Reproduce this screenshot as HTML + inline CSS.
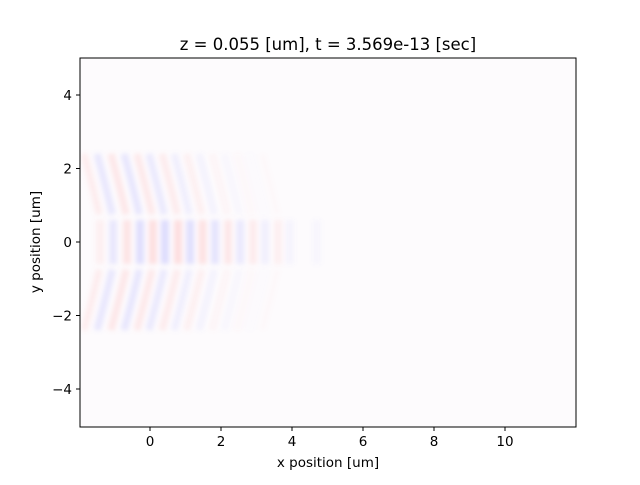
<!DOCTYPE html>
<html><head><meta charset="utf-8"><style>
body{margin:0;background:#fff;}
svg text{font-family:"DejaVu Sans","Liberation Sans",sans-serif;fill:#000;}
</style></head><body>
<svg id="c" width="640" height="480">
<defs><filter id="blur"><feGaussianBlur stdDeviation="2.5"/></filter></defs>
<text x="328" y="50" text-anchor="middle" font-size="16.5">z = 0.055 [um], t = 3.569e-13 [sec]</text>
<rect x="80" y="58" width="496" height="369" fill="#fdfbfd"/>
<g id="marks" clip-path="url(#clip)" filter="url(#blur)"></g>
<clipPath id="clip"><rect x="80" y="58" width="496" height="369"/></clipPath>
<rect x="80" y="58" width="496" height="369" fill="none" stroke="#000" stroke-width="1"/>
<g id="axes"></g>
<text x="328" y="467" text-anchor="middle" font-size="13.5">x position [um]</text>
<text x="40" y="242" text-anchor="middle" font-size="13.5" transform="rotate(-90 40 242)">y position [um]</text>
</svg>
<script>
const xTicks=[0,2,4,6,8,10];
const yTicks=[-4,-2,0,2,4];
const stripeX=[-1.41,-1.04,-0.65,-0.28,0.08,0.42,0.79,1.13,1.48,1.83,2.2,2.54,2.9,3.24,3.61,3.94,4.7];
const stripeAmp=[0.3,-0.5,0.6,-0.75,0.7,-0.8,0.75,-0.7,0.65,-0.6,0.5,-0.45,0.4,-0.3,0.3,-0.2,-0.15];
const sideAmp=[0.5,-0.7,0.7,-0.75,0.65,-0.6,0.55,-0.45,0.4,-0.3,0.25,-0.18,0.12,-0.08,0.05,0,0];
const X=v=>150+v*35.5, Y=v=>242-v*36.75;
const ns="http://www.w3.org/2000/svg";
const marks=document.getElementById('marks'), axes=document.getElementById('axes');
stripeX.forEach((sx,i)=>{
  const a=stripeAmp[i];
  const col=a>0?'rgb(255,120,120)':'rgb(120,120,255)';
  const op=Math.abs(a)*0.3;
  const c=document.createElementNS(ns,'rect');
  c.setAttribute('x',X(sx)-4);c.setAttribute('y',Y(0.6));c.setAttribute('width',8);c.setAttribute('height',Y(-0.6)-Y(0.6));
  c.setAttribute('fill',col);c.setAttribute('opacity',op);
  
  
  marks.appendChild(c);
  const sa=sideAmp[i];
  const scol=sa>0?'rgb(255,120,120)':'rgb(120,120,255)';
  [1,-1].forEach(s=>{
    const p=document.createElementNS(ns,'path');
    p.setAttribute('d',`M${X(sx-0.02)},${Y(s*0.75)} Q${X(sx-0.2)},${Y(s*1.5)} ${X(sx-0.45)},${Y(s*2.4)}`);
    p.setAttribute('fill','none');p.setAttribute('stroke',scol);p.setAttribute('stroke-width',7);
    p.setAttribute('opacity',Math.abs(sa)*0.22);
    
    
    marks.appendChild(p);
  });
});
xTicks.forEach(t=>{
  const l=document.createElementNS(ns,'line');
  l.setAttribute('x1',X(t));l.setAttribute('x2',X(t));l.setAttribute('y1',427);l.setAttribute('y2',431);l.setAttribute('stroke','#000');
  
  
  axes.appendChild(l);
  const tx=document.createElementNS(ns,'text');
  tx.setAttribute('x',X(t));tx.setAttribute('y',446);tx.setAttribute('text-anchor','middle');tx.setAttribute('font-size','13.5');
  tx.textContent=t;
  
  
  axes.appendChild(tx);
});
yTicks.forEach(t=>{
  const l=document.createElementNS(ns,'line');
  l.setAttribute('x1',76);l.setAttribute('x2',80);l.setAttribute('y1',Y(t));l.setAttribute('y2',Y(t));l.setAttribute('stroke','#000');
  
  
  axes.appendChild(l);
  const tx=document.createElementNS(ns,'text');
  tx.setAttribute('x',72);tx.setAttribute('y',Y(t)+5);tx.setAttribute('text-anchor','end');tx.setAttribute('font-size','13.5');
  tx.textContent=t<0?'\u2212'+(-t):t;
  
  
  axes.appendChild(tx);
});
</script>
</body></html>
